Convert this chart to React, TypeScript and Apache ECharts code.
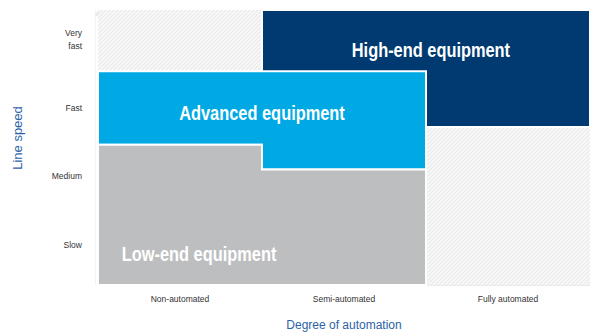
import React, { useEffect, useRef } from "react";
import * as echarts from "echarts";

const xCategories = ["Non-automated", "Semi-automated", "Fully automated"];
const yCategories = ["Slow", "Medium", "Fast", "Very\nfast"];

// Region outlines in axis units (x: 0..3 columns, y: 0..4 rows)
const backgroundArea = [[0, 0], [3, 0], [3, 4], [0, 4]];
const highEndArea = [[1, 2.3], [3, 2.3], [3, 4], [1, 4]];
const advancedArea = [[0, 2.04], [1, 2.04], [1, 1.68], [2, 1.68], [2, 3.11], [0, 3.11]];
const lowEndArea = [[0, 0], [2, 0], [2, 1.68], [1, 1.68], [1, 2.04], [0, 2.04]];

const regionNames = ["", "High-end equipment", "Advanced equipment", "Low-end equipment"];
const regionAreas = [backgroundArea, highEndArea, advancedArea, lowEndArea];
const regionLabelPos = [[0, 0], [2.03, 3.42], [1.0, 2.5], [0.616, 0.45]];
const regionColors = ["hatch", "#003a70", "#00a9e3", "#bdbec0"];

function makeHatch(): any {
  const c = document.createElement("canvas");
  c.width = 4;
  c.height = 4;
  const ctx = c.getContext("2d");
  if (!ctx) return "#f2f2f2";
  ctx.fillStyle = "#f6f6f6";
  ctx.fillRect(0, 0, 4, 4);
  ctx.strokeStyle = "#e8e8e8";
  ctx.lineWidth = 1;
  ctx.beginPath();
  ctx.moveTo(0, 4);
  ctx.lineTo(4, 0);
  ctx.moveTo(-1, 1);
  ctx.lineTo(1, -1);
  ctx.moveTo(3, 5);
  ctx.lineTo(5, 3);
  ctx.stroke();
  return { image: c, repeat: "repeat" };
}

export default function App() {
  const ref = useRef<HTMLDivElement>(null);
  useEffect(() => {
    if (!ref.current) return;
    const chart = echarts.init(ref.current, null, { renderer: "svg" });
    const hatch = makeHatch();
    const labelFont = "'Liberation Sans', Arial, sans-serif";
    chart.setOption({
      animation: false,
      grid: [
        { left: 98, right: 0, top: 10, bottom: 49 },
        { left: 98, right: 0, top: 5, bottom: 57 },
      ],
      xAxis: [
        { type: "value", gridIndex: 0, min: 0, max: 3, show: false },
        {
          type: "category",
          gridIndex: 0,
          position: "bottom",
          offset: 0,
          data: xCategories,
          axisLine: { show: false },
          axisTick: { show: false },
          axisLabel: { margin: 9, fontSize: 8.5, color: "#333", fontFamily: labelFont },
        },
        {
          type: "value",
          gridIndex: 0,
          position: "bottom",
          offset: 30,
          min: 0,
          max: 3,
          axisLine: { show: true, lineStyle: { color: "#ececec", width: 1 } },
          axisTick: { show: false },
          axisLabel: { show: false },
          splitLine: { show: false },
          name: "Degree of automation",
          nameLocation: "middle",
          nameGap: 4,
          nameTextStyle: { color: "#2d63a6", fontSize: 12, fontFamily: labelFont },
        },
        { type: "category", gridIndex: 1, show: false, data: xCategories },
      ],
      yAxis: [
        { type: "value", gridIndex: 0, min: 0, max: 4, show: false },
        {
          type: "value",
          gridIndex: 0,
          position: "left",
          offset: 63,
          min: 0,
          max: 4,
          axisLine: { show: true, symbol: ["none", "arrow"], symbolSize: [5, 7], lineStyle: { color: "#e6e6e6", width: 1 } },
          axisTick: { show: false },
          axisLabel: { show: false },
          splitLine: { show: false },
        },
        {
          type: "value",
          gridIndex: 0,
          position: "left",
          offset: 3,
          min: 0,
          max: 4,
          axisLine: { show: true, lineStyle: { color: "#f3f3f3", width: 1 } },
          axisTick: { show: false },
          axisLabel: { show: false },
          splitLine: { show: false },
        },
        {
          type: "category",
          gridIndex: 1,
          position: "left",
          data: yCategories,
          axisLine: { show: false },
          axisTick: { show: false },
          axisLabel: { margin: 16, fontSize: 8.5, lineHeight: 13, color: "#333", fontFamily: labelFont, align: "right" },
        },
      ],
      graphic: [
        {
          type: "text",
          x: 17,
          y: 138,
          rotation: Math.PI / 2,
          style: {
            text: "Line speed",
            fill: "#2d63a6",
            fontSize: 13,
            fontFamily: labelFont,
            align: "center",
            verticalAlign: "middle",
          },
        },
      ],
      series: [
        {
          type: "custom",
          xAxisIndex: 0,
          yAxisIndex: 0,
          data: regionNames.map((_, i) => [i]),
          renderItem: (params: any, api: any) => {
            const i = params.dataIndex;
            const pts = regionAreas[i].map((p) => api.coord(p));
            const children: any[] = [
              {
                type: "polygon",
                shape: { points: pts },
                style: {
                  fill: regionColors[i] === "hatch" ? hatch : regionColors[i],
                  stroke: i === 0 ? "none" : "#ffffff",
                  lineWidth: i === 0 ? 0 : 2,
                },
              },
            ];
            if (regionNames[i]) {
              const c = api.coord(regionLabelPos[i]);
              children.push({
                type: "text",
                x: c[0],
                y: c[1],
                scaleX: 0.82,
                style: {
                  text: regionNames[i],
                  fill: "#ffffff",
                  fontSize: 20,
                  fontWeight: "bold",
                  fontFamily: labelFont,
                  align: "center",
                  verticalAlign: "middle",
                },
              });
            }
            return { type: "group", children };
          },
        },
      ],
    });
    return () => chart.dispose();
  }, []);
  return <div ref={ref} style={{ width: 590, height: 336, position: "absolute", left: 0, top: 0 }} />;
}
